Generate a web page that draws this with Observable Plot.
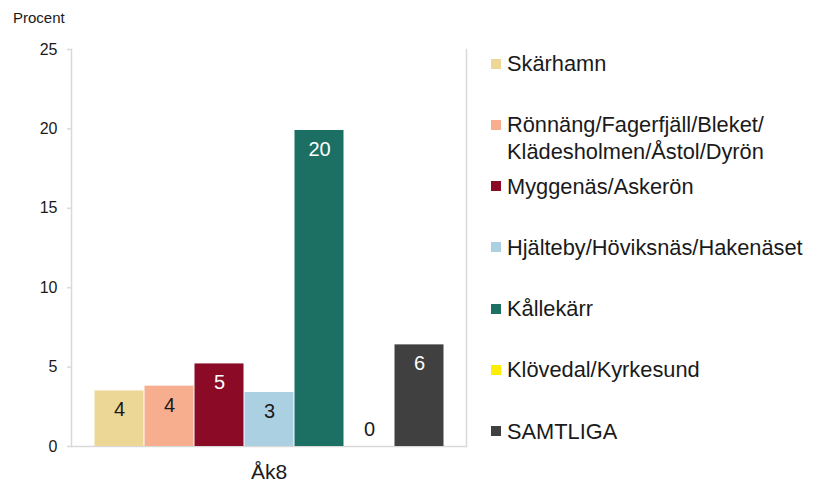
<!DOCTYPE html>
<html>
<head>
<meta charset="utf-8">
<script src="https://cdn.jsdelivr.net/npm/d3@7"></script>
<script src="https://cdn.jsdelivr.net/npm/@observablehq/plot@0.6"></script>
<style>
  html, body { margin: 0; padding: 0; background: #fff; }
  #wrap { position: relative; width: 820px; height: 485px; font-family: "Liberation Sans", Arial, sans-serif; color: #1a1a1a; }
  #ytitle { position: absolute; left: 13px; top: 9px; font-size: 15px; line-height: 18px; }
  #chart { position: absolute; left: 0; top: 0; }
  #legend { position: absolute; left: 491px; top: 50px; width: 325px; }
  .item { height: 61.3px; display: flex; align-items: flex-start; }
  .sw { width: 10px; height: 10px; margin-top: 8.5px; margin-right: 6px; flex: none; }
  .lbl { font-size: 21.8px; line-height: 27px; max-width: 310px; }
</style>
</head>
<body>
<div id="wrap">
  <div id="chart"></div>
  <div id="ytitle">Procent</div>
  <div id="legend"></div>
</div>
<script>
const group = "Åk8";
const categories = [
  "Skärhamn",
  "Rönnäng/Fagerfjäll/Bleket/Klädesholmen/Åstol/Dyrön",
  "Myggenäs/Askerön",
  "Hjälteby/Höviksnäs/Hakenäset",
  "Kållekärr",
  "Klövedal/Kyrkesund",
  "SAMTLIGA"
];
const values = [3.5, 3.8, 5.2, 3.4, 19.9, 0, 6.4];
const valueLabels = ["4", "4", "5", "3", "20", "0", "6"];
const colors = ["#EDD796", "#F6AE8F", "#8B0A26", "#ABD0E1", "#1B7063", "#FFED00", "#404040"];
const labelColors = ["#1a1a1a", "#1a1a1a", "#ffffff", "#1a1a1a", "#ffffff", "#1a1a1a", "#ffffff"];
const yTicks = [0, 5, 10, 15, 20, 25];

const data = categories.map((c, i) => ({
  group, cat: c, value: values[i], label: valueLabels[i], lc: labelColors[i]
}));

const plot = Plot.plot({
  width: 470,
  height: 485,
  marginTop: 49,
  marginBottom: 39,
  marginLeft: 71,
  marginRight: 4,
  style: { fontFamily: "'Liberation Sans', Arial, sans-serif", color: "#1a1a1a", background: "#fff" },
  fx: { domain: [group], padding: 0, label: null },
  x: { domain: categories, axis: null, paddingInner: 0, paddingOuter: 0.42 },
  y: { domain: [0, 25], ticks: yTicks, label: null },
  color: { domain: categories, range: colors },
  marks: [
    Plot.frame({ anchor: "left", stroke: "#d9d9d9", strokeWidth: 1.5 }),
    Plot.frame({ anchor: "right", stroke: "#d9d9d9", strokeWidth: 1.5 }),
    Plot.frame({ anchor: "bottom", stroke: "#d9d9d9", strokeWidth: 1.5 }),
    Plot.axisY({ ticks: yTicks, tickSize: 4, tickPadding: 10, fontSize: 16, stroke: "#d9d9d9", strokeWidth: 1.5, label: null, fill: "#1a1a1a" }),
    Plot.axisFx({ anchor: "bottom", tickSize: 0, tickPadding: 18, fontSize: 21, label: null, fill: "#1a1a1a" }),
    Plot.barY(data, { fx: "group", x: "cat", y: "value", fill: "cat", insetLeft: 0.5, insetRight: 0.5 }),
    Plot.text(data.filter(d => d.value > 0), { fx: "group", x: "cat", y: "value", text: "label", fill: "lc", dy: 19, fontSize: 20 }),
    Plot.text(data.filter(d => d.value === 0), { fx: "group", x: "cat", y: "value", text: "label", fill: "lc", dy: -17, fontSize: 20 })
  ]
});
document.getElementById("chart").appendChild(plot);

const legend = document.getElementById("legend");
categories.forEach((c, i) => {
  const item = document.createElement("div");
  item.className = "item";
  const sw = document.createElement("div");
  sw.className = "sw";
  sw.style.background = colors[i];
  const lbl = document.createElement("div");
  lbl.className = "lbl";
  c.split("/").forEach((part, j, arr) => {
    lbl.appendChild(document.createTextNode(part + (j < arr.length - 1 ? "/" : "")));
    if (j < arr.length - 1) lbl.appendChild(document.createElement("wbr"));
  });
  item.appendChild(sw);
  item.appendChild(lbl);
  legend.appendChild(item);
});
</script>
</body>
</html>
